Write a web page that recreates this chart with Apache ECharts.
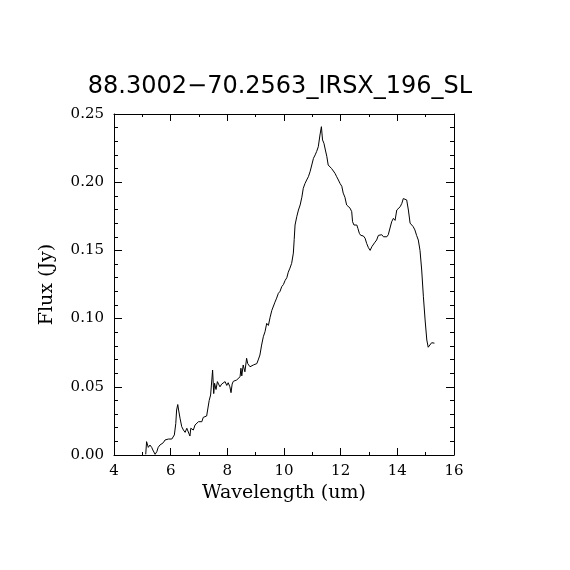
<!DOCTYPE html>
<html>
<head>
<meta charset="utf-8">
<title>88.3002-70.2563_IRSX_196_SL</title>
<script src="https://cdn.jsdelivr.net/npm/echarts@6/dist/echarts.min.js"></script>
<style>
  html, body { margin: 0; padding: 0; background: #fff; }
  #chart { width: 570px; height: 570px; }
</style>
</head>
<body>
<div id="chart"></div>
<script>
// spectrum
const wavelength = [
    5.12, 5.15, 5.21, 5.27, 5.33, 5.37, 5.45, 5.51, 5.56, 5.62, 5.68, 5.74, 5.80, 5.86, 5.92, 5.98,
    6.04, 6.09, 6.13, 6.18, 6.21, 6.25, 6.28, 6.33, 6.39, 6.45, 6.51, 6.57, 6.62, 6.68, 6.71, 6.76,
    6.80, 6.86, 6.92, 6.98, 7.04, 7.10, 7.15, 7.21, 7.27, 7.33, 7.36, 7.41, 7.45, 7.48, 7.52, 7.55,
    7.60, 7.65, 7.69, 7.74, 7.80, 7.86, 7.92, 7.98, 8.03, 8.09, 8.13, 8.17, 8.21, 8.27, 8.33, 8.39,
    8.45, 8.48, 8.51, 8.56, 8.62, 8.68, 8.72, 8.76, 8.80, 8.86, 8.92, 8.98, 9.04, 9.09, 9.15, 9.21,
    9.27, 9.33, 9.39, 9.45, 9.51, 9.57, 9.62, 9.68, 9.74, 9.80, 9.86, 9.92, 9.98, 10.04, 10.10, 10.15,
    10.21, 10.27, 10.33, 10.36, 10.39, 10.45, 10.51, 10.57, 10.63, 10.68, 10.74, 10.80, 10.86, 10.92,
    10.98, 11.04, 11.10, 11.15, 11.21, 11.27, 11.32, 11.36, 11.41, 11.46, 11.51, 11.56, 11.62, 11.68,
    11.74, 11.80, 11.86, 11.92, 11.98, 12.04, 12.09, 12.15, 12.21, 12.27, 12.33, 12.39, 12.42, 12.47,
    12.52, 12.57, 12.61, 12.66, 12.71, 12.75, 12.80, 12.86, 12.92, 12.98, 13.04, 13.10, 13.15, 13.21,
    13.27, 13.33, 13.39, 13.45, 13.51, 13.57, 13.63, 13.68, 13.74, 13.80, 13.86, 13.92, 13.98, 14.04,
    14.10, 14.16, 14.21, 14.27, 14.33, 14.39, 14.45, 14.51, 14.56, 14.62, 14.68, 14.74, 14.80, 14.86,
    14.92, 14.98, 15.04, 15.09, 15.15, 15.21, 15.27, 15.31
];
const flux = [
    0.0005, 0.0098, 0.0056, 0.0073, 0.0056, 0.0037, 0.0005, 0.0024, 0.0056, 0.0073, 0.0066, 0.0090, 0.0110, 0.0105, 0.0117, 0.0110,
    0.0117, 0.0103, 0.0147, 0.0230, 0.0330, 0.0370, 0.0330, 0.0270, 0.0208, 0.0183, 0.0166, 0.0196, 0.0183, 0.0139, 0.0196, 0.0208,
    0.0183, 0.0220, 0.0230, 0.0244, 0.0257, 0.0244, 0.0276, 0.0280, 0.0286, 0.0280, 0.0400, 0.0440, 0.0450, 0.0623, 0.0450, 0.0526,
    0.0480, 0.0538, 0.0520, 0.0500, 0.0520, 0.0530, 0.0538, 0.0510, 0.0530, 0.0500, 0.0457, 0.0520, 0.0540, 0.0526, 0.0550, 0.0540,
    0.0574, 0.0636, 0.0580, 0.0660, 0.0610, 0.0709, 0.0670, 0.0680, 0.0647, 0.0660, 0.0660, 0.0660, 0.0670, 0.0697, 0.0733, 0.0806,
    0.0867, 0.0904, 0.0965, 0.0950, 0.1010, 0.1060, 0.1070, 0.1120, 0.1150, 0.1185, 0.1200, 0.1234, 0.1250, 0.1280, 0.1300, 0.1340,
    0.1370, 0.1405, 0.1480, 0.1580, 0.1686, 0.1747, 0.1796, 0.1833, 0.1890, 0.1955, 0.1990, 0.2016, 0.2040, 0.2077,
    0.2126, 0.2175, 0.2200, 0.2224, 0.2260, 0.2346, 0.2407, 0.2310, 0.2285, 0.2236, 0.2190, 0.2126, 0.2114, 0.2100,
    0.2090, 0.2065, 0.2040, 0.2016, 0.1990, 0.1970, 0.1920, 0.1890, 0.1833, 0.1820, 0.1810, 0.1784, 0.1710, 0.1686,
    0.1674, 0.1686, 0.1660, 0.1625, 0.1610, 0.1606, 0.1606, 0.1590, 0.1550, 0.1520, 0.1500, 0.1527, 0.1540, 0.1560,
    0.1576, 0.1610, 0.1600, 0.1615, 0.1600, 0.1590, 0.1600, 0.1615, 0.1606, 0.1710, 0.1735, 0.1720, 0.1796, 0.1810,
    0.1820, 0.1845, 0.1880, 0.1875, 0.1870, 0.1796, 0.1700, 0.1686, 0.1674, 0.1650, 0.1610, 0.1576, 0.1500, 0.1356,
    0.1160, 0.0990, 0.0843, 0.0790, 0.0800, 0.0823, 0.0823, 0.0820
];

const chartTitle = '88.3002\u221270.2563_IRSX_196_SL';
const xName = 'Wavelength (um)';
const yName = 'Flux (Jy)';

const chart = echarts.init(document.getElementById('chart'));

const points = wavelength.map((w, i) => [w, flux[i]]);

const labelFont = { fontFamily: 'DejaVu Serif', fontSize: 15, color: '#000' };
const lineStyle = { color: '#000', width: 1 };

// frame axes: bottom/left carry labels, top/right just mirror the ticks
function xAxisOpt(pos, showLabels) {
    return {
        type: 'value',
        position: pos,
        min: 4,
        max: 16,
        interval: 2,
        name: showLabels ? xName : '',
        nameLocation: 'middle',
        nameGap: 25,
        nameTextStyle: { fontFamily: 'DejaVu Serif', fontSize: 19, color: '#000' },
        axisLine: { show: true, onZero: false, lineStyle: lineStyle },
        axisTick: { show: true, inside: true, length: 7, lineStyle: lineStyle },
        minorTick: { show: true, splitNumber: 2, length: 3, lineStyle: lineStyle },
        axisLabel: Object.assign({ show: showLabels, margin: 9 }, labelFont),
        splitLine: { show: false }
    };
}

function yAxisOpt(pos, showLabels) {
    return {
        type: 'value',
        position: pos,
        min: 0,
        max: 0.25,
        interval: 0.05,
        name: showLabels ? yName : '',
        nameLocation: 'middle',
        nameRotate: 90,
        nameGap: 57,
        nameTextStyle: { fontFamily: 'DejaVu Serif', fontSize: 19, color: '#000' },
        axisLine: { show: true, onZero: false, lineStyle: lineStyle },
        axisTick: { show: true, inside: true, length: 8, lineStyle: lineStyle },
        minorTick: { show: true, splitNumber: 5, length: 4, lineStyle: lineStyle },
        axisLabel: Object.assign({
            show: showLabels,
            margin: 10,
            formatter: v => v.toFixed(2)
        }, labelFont),
        splitLine: { show: false }
    };
}

const option = {
    backgroundColor: '#fff',
    animation: false,
    title: {
        text: chartTitle,
        left: 275,
        top: 70,
        textAlign: 'center',
        textStyle: { fontFamily: 'DejaVu Sans', fontSize: 24, fontWeight: 'normal', color: '#000' }
    },
    grid: { left: 114, right: 116, top: 114, bottom: 115, containLabel: false },
    xAxis: [xAxisOpt('bottom', true), xAxisOpt('top', false)],
    yAxis: [yAxisOpt('left', true), yAxisOpt('right', false)],
    series: [{
        type: 'line',
        data: points,
        xAxisIndex: 0,
        yAxisIndex: 0,
        showSymbol: false,
        symbol: 'none',
        lineStyle: { color: '#000', width: 1 },
        emphasis: { disabled: true }
    }]
};

chart.setOption(option);
</script>
</body>
</html>
